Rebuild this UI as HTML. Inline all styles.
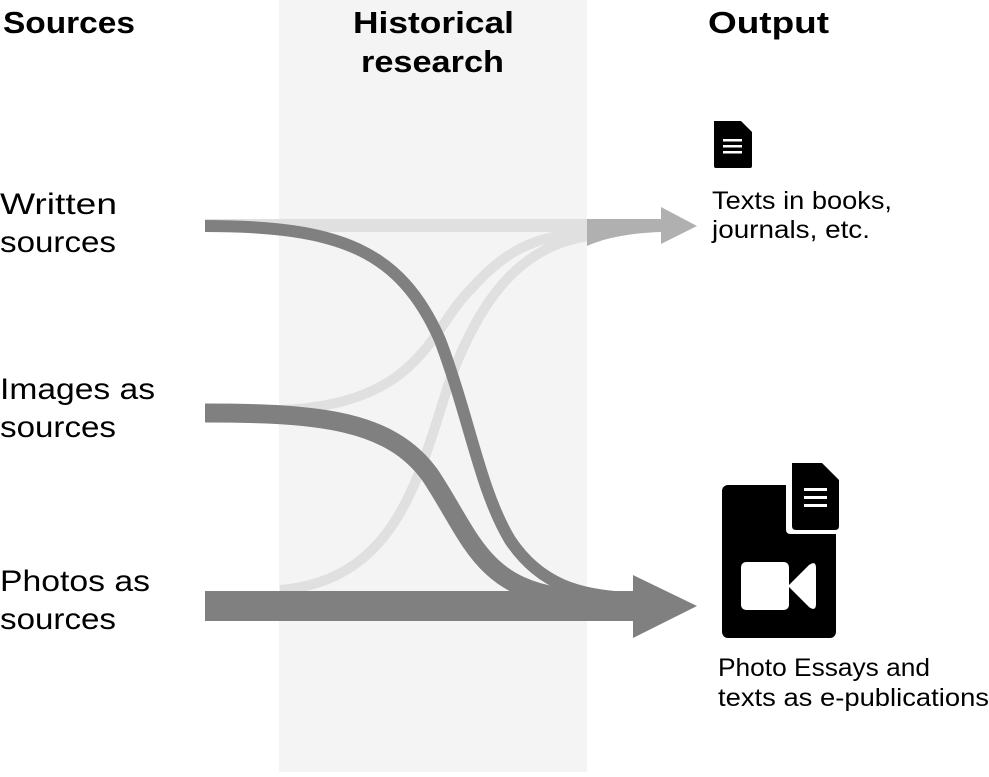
<!DOCTYPE html>
<html><head><style>
body{margin:0;background:#fff;width:989px;height:772px;overflow:hidden;font-family:"Liberation Sans",sans-serif;}
</style></head><body>
<svg width="989" height="772" viewBox="0 0 989 772" xmlns="http://www.w3.org/2000/svg" font-family="Liberation Sans, sans-serif">
<rect x="279" y="0" width="308" height="772" fill="#f4f4f4"/>
<rect x="205" y="219" width="385" height="13" fill="#e0e0e0"/>
<path d="M280 410 C420 405 430 330 470 290 C510 245 540 236 590 232" stroke="#e0e0e0" stroke-width="10" fill="none"/>
<path d="M280 590 C400 580 420 470 450 380 C480 300 520 245 590 236" stroke="#e0e0e0" stroke-width="10" fill="none"/>
<path d="M587 219 L661 219 L661 207 L697 226 L661 244 L661 232 C630 233 605 238 587 246 Z" fill="#b0b0b0"/>
<path d="M205 226 C340 226 400 250 440 340 C470 420 480 490 510 540 C540 585 580 596 630 598" stroke="#808080" stroke-width="12" fill="none"/>
<path d="M205 413 C320 413 390 420 430 475 C470 535 480 585 560 597" stroke="#808080" stroke-width="19" fill="none"/>
<path d="M205 591 L633 591 L633 575 L697 606 L633 638 L633 621 L205 621 Z" fill="#808080"/>
<path d="M714 121 L741 121 L752 132 L752 166 Q752 168 750 168 L716 168 Q714 168 714 166 Z" fill="#000"/>
<path d="M742 121 L752 121 L752 131 Z" fill="#fff"/>
<rect x="723" y="139" width="19" height="2.5" fill="#fff"/>
<rect x="723" y="145" width="19" height="2.5" fill="#fff"/>
<rect x="723" y="151" width="19" height="2.5" fill="#fff"/>
<rect x="722" y="485" width="114" height="153" rx="6" fill="#000"/>
<rect x="786" y="459" width="57" height="75" rx="4" fill="#fff"/>
<path d="M792 463 L822 463 L839 480 L839 526 Q839 530 835 530 L796 530 Q792 530 792 526 Z" fill="#000"/>
<path d="M824 463 L843 463 L843 481 Z" fill="#fff"/>
<rect x="804" y="488" width="23" height="3" fill="#fff"/>
<rect x="804" y="496" width="23" height="3" fill="#fff"/>
<rect x="804" y="504" width="23" height="3" fill="#fff"/>
<rect x="741" y="562" width="48" height="48" rx="5" fill="#fff"/>
<path d="M788 586 L809 565 Q816 560 816 568 L816 604 Q816 612 809 607 Z" fill="#fff"/>
<g font-weight="bold" font-size="31" fill="#000">
<text x="3" y="33" textLength="132" lengthAdjust="spacingAndGlyphs">Sources</text>
<text x="353" y="33" textLength="161" lengthAdjust="spacingAndGlyphs">Historical</text>
<text x="361" y="72" textLength="143" lengthAdjust="spacingAndGlyphs">research</text>
<text x="708" y="33" textLength="121" lengthAdjust="spacingAndGlyphs">Output</text>
</g>
<g font-size="30" fill="#000">
<text x="0" y="214" textLength="117" lengthAdjust="spacingAndGlyphs">Written</text>
<text x="0" y="252" textLength="116" lengthAdjust="spacingAndGlyphs">sources</text>
<text x="0" y="399" textLength="155" lengthAdjust="spacingAndGlyphs">Images as</text>
<text x="0" y="437" textLength="116" lengthAdjust="spacingAndGlyphs">sources</text>
<text x="0" y="591" textLength="150" lengthAdjust="spacingAndGlyphs">Photos as</text>
<text x="0" y="629" textLength="116" lengthAdjust="spacingAndGlyphs">sources</text>
</g>
<g font-size="25" fill="#000">
<text x="712" y="209" textLength="180" lengthAdjust="spacingAndGlyphs">Texts in books,</text>
<text x="712" y="238" textLength="158" lengthAdjust="spacingAndGlyphs">journals, etc.</text>
<text x="718" y="676" textLength="212" lengthAdjust="spacingAndGlyphs">Photo Essays and</text>
<text x="718" y="706" textLength="271" lengthAdjust="spacingAndGlyphs">texts as e-publications</text>
</g>
</svg>
</body></html>
